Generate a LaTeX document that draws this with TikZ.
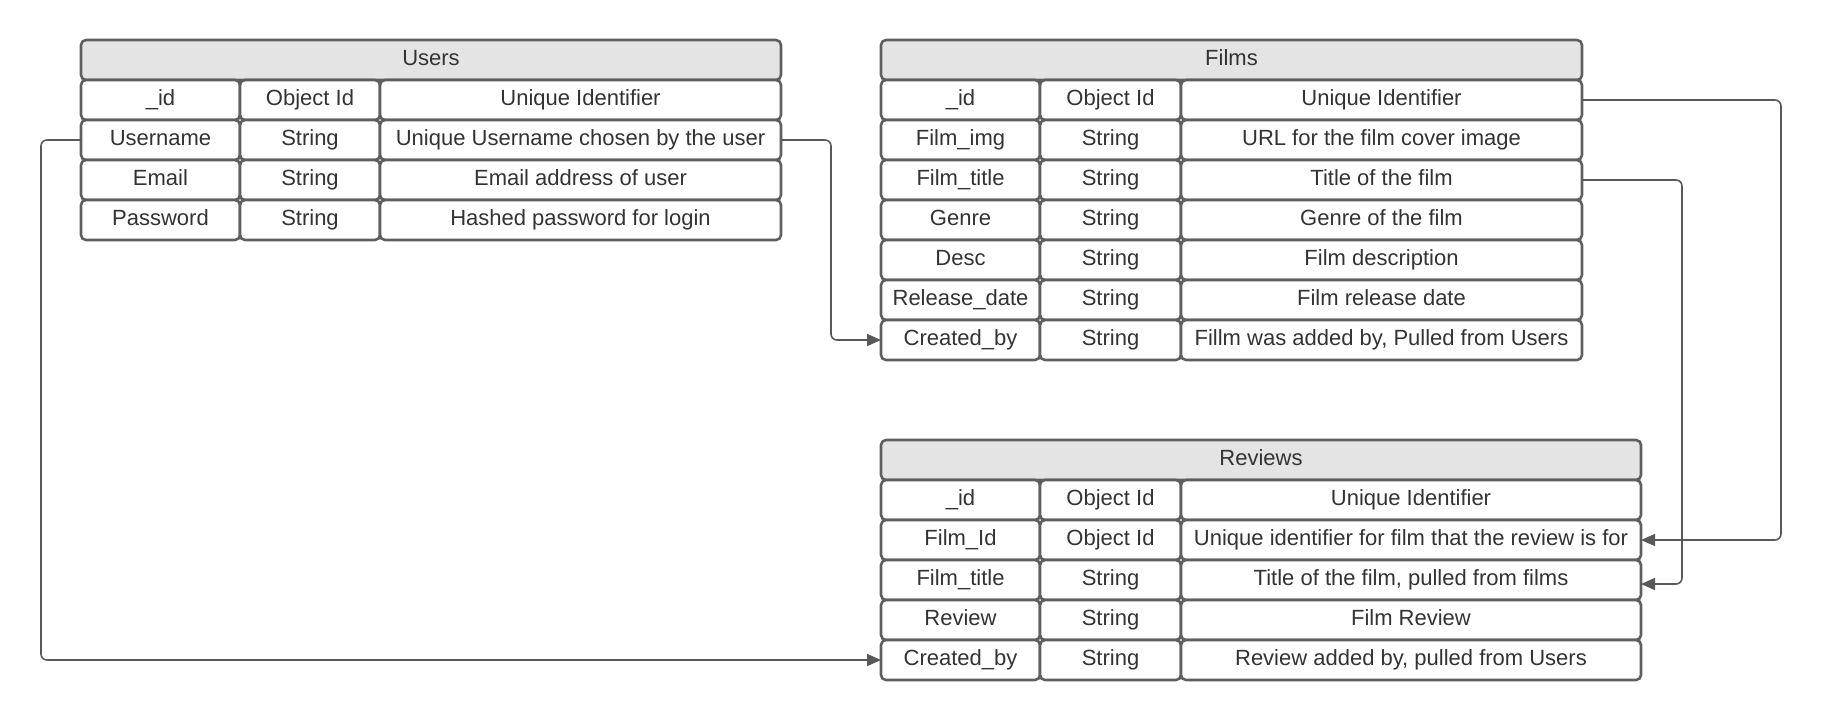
\documentclass[tikz,border=0pt]{standalone}
\usepackage{fontspec}
\setmainfont{Liberation Sans}
\usetikzlibrary{arrows.meta}
\definecolor{boxline}{HTML}{5F5F5F}
\definecolor{headfill}{HTML}{E4E4E4}
\definecolor{wire}{HTML}{595959}
\definecolor{ink}{HTML}{333333}

\begin{document}
\begin{tikzpicture}[x=0.5pt, y=-0.5pt, font=\fontsize{11}{13}\selectfont, line join=round,
    cell/.style={draw=boxline, line width=1.3pt, rounded corners=2.5pt, fill=white, text=ink,
                 anchor=north west, inner sep=0pt, outer sep=0pt, minimum height=20pt,
                 text height=8pt, text depth=2.4pt},
    head/.style={cell, fill=headfill},
    link/.style={draw=wire, line width=0.8pt, rounded corners=3pt, -{Triangle[length=7pt,width=6pt]}}]
        \useasboundingbox (0,0) rectangle (1822,720);
        % Users
        \node[head, minimum width=350pt] (U0) at (81,40) {Users};
        \foreach \n/\f/\t/\d in {1/\_id/Object Id/Unique Identifier,
                2/Username/String/Unique Username chosen by the user,
                3/Email/String/Email address of user,
                4/Password/String/Hashed password for login}{
            \node[cell, minimum width=79.5pt] (U\n-a) at (81,40+40*\n) {\f};
            \node[cell, minimum width=70pt] (U\n-b) at (240,40+40*\n) {\t};
            \node[cell, minimum width=200.5pt] (U\n-c) at (380,40+40*\n) {\d};
        }
        % Films
        \node[head, minimum width=350.5pt] (F0) at (881,40) {Films};
        \foreach \n/\f/\t/\d in {1/\_id/Object Id/Unique Identifier,
                2/Film\_img/String/URL for the film cover image,
                3/Film\_title/String/Title of the film,
                4/Genre/String/Genre of the film,
                5/Desc/String/Film description,
                6/Release\_date/String/Film release date,
                7/Created\_by/String/{Fillm was added by, Pulled from Users}}{
            \node[cell, minimum width=79.5pt] (F\n-a) at (881,40+40*\n) {\f};
            \node[cell, minimum width=70.5pt] (F\n-b) at (1040,40+40*\n) {\t};
            \node[cell, minimum width=200.5pt] (F\n-c) at (1181,40+40*\n) {\d};
        }
        % Reviews
        \node[head, minimum width=380pt] (R0) at (881,440) {Reviews};
        \foreach \n/\f/\t/\d in {1/\_id/Object Id/Unique Identifier,
                2/Film\_Id/Object Id/Unique identifier for film that the review is for,
                3/Film\_title/String/{Title of the film, pulled from films},
                4/Review/String/Film Review,
                5/Created\_by/String/{Review added by, pulled from Users}}{
            \node[cell, minimum width=79.5pt] (R\n-a) at (881,440+40*\n) {\f};
            \node[cell, minimum width=70.5pt] (R\n-b) at (1040,440+40*\n) {\t};
            \node[cell, minimum width=230pt] (R\n-c) at (1181,440+40*\n) {\d};
        }
        % links
        \draw[link] (U2-c.east) -- ++(50,0) |- (F7-a.west);
        \draw[link] (U2-a.west) -- ++(-40,0) |- (R5-a.west);
        \draw[link] (F1-c.east) -- ++(199,0) |- (R2-c.east);
        \draw[link] (F3-c.east) -- ++(100,0) |- ([yshift=-2pt]R3-c.east);
\end{tikzpicture}
\end{document}
